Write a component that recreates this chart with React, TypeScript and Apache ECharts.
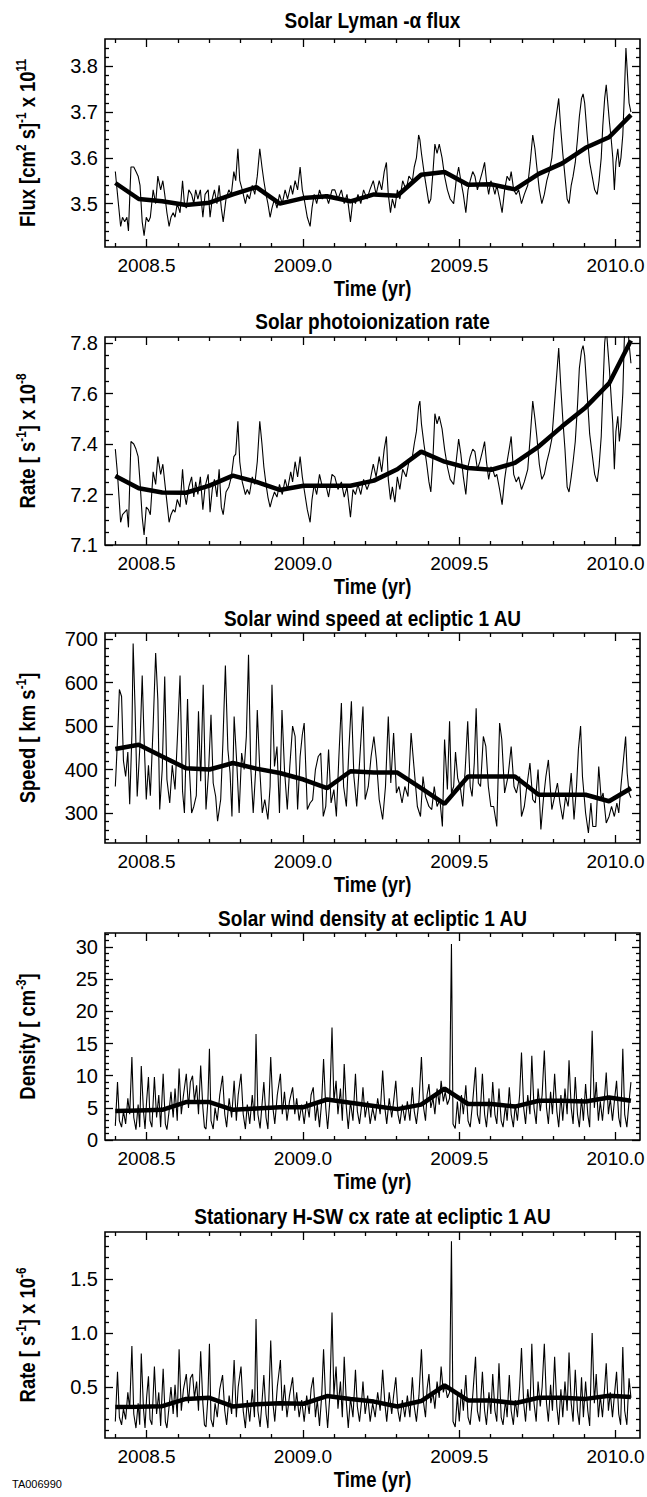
import React, { useEffect, useRef } from "react";
import * as echarts from "echarts";

// ---------------- DATA ----------------
const X_RANGE = [2008.367, 2010.078];
const X_TICKS = [2008.5, 2009.0, 2009.5, 2010.0];
const X_LABELS = ["2008.5", "2009.0", "2009.5", "2010.0"];
const X_MINOR = [2008.4, 2008.6, 2008.7, 2008.8, 2008.9, 2009.1, 2009.2, 2009.3, 2009.4, 2009.6, 2009.7, 2009.8, 2009.9];

const TITLES = [
  "Solar Lyman -\u03b1 flux",
  "Solar photoionization rate",
  "Solar wind speed at ecliptic 1 AU",
  "Solar wind density at ecliptic 1 AU",
  "Stationary H-SW cx rate at ecliptic 1 AU",
];
const Y_NAMES = [
  "{n|Flux [cm}{s|2}{n| s]}{s|-1}{n| x 10}{s|11}",
  "{n|Rate [ s}{s|-1}{n|] x 10}{s|-8}",
  "{n|Speed [ km s}{s|-1}{n|]}",
  "{n|Density [ cm}{s|-3}{n|]}",
  "{n|Rate [ s}{s|-1}{n|] x 10}{s|-6}",
];
const X_NAME = "Time (yr)";
const FIG_ID = "TA006990";

const Y1_RANGE = [3.405, 3.86];
const Y1_TICKS = [3.5, 3.6, 3.7, 3.8];
const Y1_LABELS = ["3.5", "3.6", "3.7", "3.8"];
const Y1_MINOR = [3.42, 3.44, 3.46, 3.48, 3.52, 3.54, 3.56, 3.58, 3.62, 3.64, 3.66, 3.68, 3.72, 3.74, 3.76, 3.78, 3.82, 3.84];

const Y2_RANGE = [7.0, 7.824];
const Y2_TICKS = [7.0, 7.2, 7.4, 7.6, 7.8];
const Y2_LABELS = ["7.1", "7.2", "7.4", "7.6", "7.8"];
const Y2_MINOR = [7.05, 7.1, 7.15, 7.25, 7.3, 7.35, 7.45, 7.5, 7.55, 7.65, 7.7, 7.75];

const Y3_RANGE = [231, 714];
const Y3_TICKS = [300, 400, 500, 600, 700];
const Y3_LABELS = ["300", "400", "500", "600", "700"];
const Y3_MINOR = [240, 260, 280, 320, 340, 360, 380, 420, 440, 460, 480, 520, 540, 560, 580, 620, 640, 660, 680];

const Y4_RANGE = [0, 32.2];
const Y4_TICKS = [0, 5, 10, 15, 20, 25, 30];
const Y4_LABELS = ["0", "5", "10", "15", "20", "25", "30"];
const Y4_MINOR = [1, 2, 3, 4, 6, 7, 8, 9, 11, 12, 13, 14, 16, 17, 18, 19, 21, 22, 23, 24, 26, 27, 28, 29, 31, 32];

const Y5_RANGE = [0.028, 1.935];
const Y5_TICKS = [0.5, 1.0, 1.5];
const Y5_LABELS = ["0.5", "1.0", "1.5"];
const Y5_MINOR = [0.1, 0.2, 0.3, 0.4, 0.6, 0.7, 0.8, 0.9, 1.1, 1.2, 1.3, 1.4, 1.6, 1.7, 1.8, 1.9];

// daily Lyman-alpha flux [t, 1e11 /cm2/s]
const LYA_DAILY = [
  [2008.400,3.57],[2008.407,3.52],[2008.417,3.45],[2008.423,3.47],[2008.430,3.46],[2008.437,3.47],[2008.442,3.44],[2008.450,3.58],[2008.459,3.58],[2008.466,3.57],
  [2008.473,3.56],[2008.479,3.54],[2008.486,3.46],[2008.492,3.43],[2008.499,3.47],[2008.506,3.46],[2008.512,3.47],[2008.521,3.53],[2008.529,3.50],[2008.536,3.56],
  [2008.545,3.53],[2008.552,3.55],[2008.558,3.52],[2008.565,3.48],[2008.572,3.45],[2008.578,3.47],[2008.585,3.48],[2008.591,3.47],[2008.598,3.50],[2008.607,3.48],
  [2008.615,3.55],[2008.621,3.50],[2008.627,3.49],[2008.635,3.53],[2008.644,3.52],[2008.651,3.50],[2008.657,3.53],[2008.664,3.51],[2008.672,3.53],[2008.680,3.47],
  [2008.687,3.52],[2008.697,3.53],[2008.703,3.47],[2008.710,3.51],[2008.717,3.53],[2008.725,3.50],[2008.732,3.54],[2008.739,3.49],[2008.745,3.46],[2008.754,3.51],
  [2008.763,3.53],[2008.771,3.52],[2008.779,3.57],[2008.785,3.55],[2008.792,3.62],[2008.798,3.55],[2008.806,3.53],[2008.816,3.50],[2008.822,3.52],[2008.829,3.51],
  [2008.838,3.54],[2008.846,3.52],[2008.854,3.56],[2008.862,3.62],[2008.869,3.58],[2008.875,3.55],[2008.882,3.52],[2008.888,3.50],[2008.895,3.47],[2008.901,3.49],
  [2008.909,3.51],[2008.917,3.49],[2008.925,3.52],[2008.934,3.50],[2008.943,3.53],[2008.951,3.51],[2008.961,3.54],[2008.967,3.52],[2008.975,3.55],[2008.983,3.53],
  [2008.991,3.58],[2008.998,3.53],[2009.004,3.51],[2009.014,3.47],[2009.023,3.45],[2009.029,3.49],[2009.036,3.52],[2009.044,3.50],[2009.053,3.53],[2009.062,3.51],
  [2009.073,3.52],[2009.082,3.50],[2009.093,3.53],[2009.102,3.53],[2009.112,3.51],[2009.123,3.53],[2009.132,3.50],[2009.141,3.52],[2009.152,3.46],[2009.160,3.51],
  [2009.168,3.50],[2009.176,3.52],[2009.185,3.50],[2009.194,3.53],[2009.205,3.51],[2009.214,3.53],[2009.225,3.55],[2009.234,3.52],[2009.244,3.55],[2009.252,3.53],
  [2009.260,3.57],[2009.267,3.59],[2009.273,3.52],[2009.280,3.48],[2009.286,3.51],[2009.294,3.49],[2009.302,3.53],[2009.310,3.51],[2009.319,3.55],[2009.330,3.53],
  [2009.339,3.56],[2009.350,3.55],[2009.356,3.58],[2009.363,3.60],[2009.370,3.65],[2009.374,3.64],[2009.379,3.61],[2009.387,3.57],[2009.396,3.53],[2009.403,3.50],
  [2009.409,3.51],[2009.416,3.57],[2009.422,3.63],[2009.429,3.61],[2009.436,3.63],[2009.445,3.60],[2009.453,3.56],[2009.462,3.53],[2009.471,3.51],[2009.482,3.50],
  [2009.490,3.55],[2009.498,3.58],[2009.505,3.55],[2009.513,3.52],[2009.521,3.48],[2009.528,3.53],[2009.535,3.55],[2009.543,3.57],[2009.550,3.56],[2009.558,3.53],
  [2009.566,3.55],[2009.574,3.57],[2009.581,3.59],[2009.587,3.55],[2009.594,3.52],[2009.601,3.55],[2009.607,3.54],[2009.614,3.52],[2009.620,3.54],[2009.629,3.51],
  [2009.637,3.48],[2009.645,3.53],[2009.653,3.56],[2009.661,3.55],[2009.666,3.57],[2009.674,3.53],[2009.682,3.52],[2009.690,3.53],[2009.699,3.50],[2009.708,3.52],
  [2009.719,3.54],[2009.727,3.59],[2009.735,3.65],[2009.742,3.62],[2009.748,3.58],[2009.756,3.53],[2009.764,3.50],[2009.772,3.52],[2009.780,3.55],[2009.788,3.57],
  [2009.796,3.60],[2009.804,3.66],[2009.812,3.70],[2009.818,3.73],[2009.825,3.66],[2009.831,3.61],[2009.838,3.56],[2009.845,3.51],[2009.851,3.50],[2009.858,3.54],
  [2009.864,3.56],[2009.871,3.59],[2009.878,3.64],[2009.884,3.69],[2009.891,3.73],[2009.896,3.74],[2009.901,3.72],[2009.909,3.65],[2009.917,3.59],[2009.925,3.56],
  [2009.933,3.53],[2009.941,3.52],[2009.947,3.55],[2009.954,3.60],[2009.959,3.67],[2009.965,3.73],[2009.970,3.76],[2009.975,3.72],[2009.980,3.68],[2009.986,3.64],
  [2009.991,3.60],[2009.996,3.53],[2010.001,3.59],[2010.007,3.62],[2010.012,3.58],[2010.017,3.60],[2010.023,3.65],[2010.028,3.74],[2010.033,3.84],[2010.038,3.78],
  [2010.043,3.72],[2010.049,3.70],
];

// daily photoionization rate [t, 1e-8 /s]
const PHOTO_DAILY = [
  [2008.400,7.38],[2008.407,7.28],[2008.417,7.09],[2008.423,7.12],[2008.430,7.13],[2008.437,7.14],[2008.442,7.07],[2008.450,7.41],[2008.459,7.40],[2008.466,7.38],
  [2008.473,7.35],[2008.479,7.25],[2008.486,7.11],[2008.492,7.04],[2008.499,7.15],[2008.506,7.14],[2008.512,7.12],[2008.521,7.29],[2008.529,7.24],[2008.536,7.35],
  [2008.545,7.28],[2008.552,7.32],[2008.558,7.25],[2008.565,7.17],[2008.572,7.09],[2008.578,7.12],[2008.585,7.14],[2008.591,7.13],[2008.598,7.18],[2008.607,7.15],
  [2008.615,7.30],[2008.621,7.20],[2008.627,7.16],[2008.635,7.23],[2008.644,7.27],[2008.651,7.19],[2008.657,7.25],[2008.664,7.20],[2008.672,7.27],[2008.680,7.14],
  [2008.687,7.23],[2008.697,7.28],[2008.703,7.13],[2008.710,7.22],[2008.717,7.26],[2008.725,7.19],[2008.732,7.30],[2008.739,7.15],[2008.745,7.12],[2008.754,7.21],
  [2008.763,7.23],[2008.771,7.27],[2008.779,7.35],[2008.785,7.36],[2008.792,7.49],[2008.798,7.33],[2008.806,7.25],[2008.816,7.20],[2008.822,7.22],[2008.829,7.20],
  [2008.838,7.27],[2008.846,7.24],[2008.854,7.33],[2008.862,7.49],[2008.869,7.40],[2008.875,7.31],[2008.882,7.24],[2008.888,7.19],[2008.895,7.15],[2008.901,7.18],
  [2008.909,7.21],[2008.917,7.19],[2008.925,7.24],[2008.934,7.20],[2008.943,7.26],[2008.951,7.22],[2008.961,7.29],[2008.967,7.25],[2008.975,7.33],[2008.983,7.27],
  [2008.991,7.35],[2008.998,7.27],[2009.004,7.22],[2009.014,7.14],[2009.023,7.09],[2009.029,7.18],[2009.036,7.24],[2009.044,7.20],[2009.053,7.28],[2009.062,7.23],
  [2009.073,7.24],[2009.082,7.19],[2009.093,7.28],[2009.102,7.27],[2009.112,7.22],[2009.123,7.25],[2009.132,7.19],[2009.141,7.23],[2009.152,7.11],[2009.160,7.22],
  [2009.168,7.20],[2009.176,7.24],[2009.185,7.20],[2009.194,7.26],[2009.205,7.22],[2009.214,7.25],[2009.225,7.32],[2009.234,7.27],[2009.244,7.35],[2009.252,7.29],
  [2009.260,7.38],[2009.267,7.43],[2009.273,7.26],[2009.280,7.18],[2009.286,7.23],[2009.294,7.17],[2009.302,7.27],[2009.310,7.22],[2009.319,7.30],[2009.330,7.27],
  [2009.339,7.33],[2009.350,7.35],[2009.356,7.40],[2009.363,7.45],[2009.370,7.55],[2009.374,7.57],[2009.379,7.48],[2009.387,7.40],[2009.396,7.32],[2009.403,7.25],
  [2009.409,7.21],[2009.416,7.35],[2009.422,7.52],[2009.429,7.48],[2009.436,7.51],[2009.445,7.46],[2009.453,7.38],[2009.462,7.31],[2009.471,7.26],[2009.482,7.24],
  [2009.490,7.33],[2009.498,7.42],[2009.505,7.36],[2009.513,7.27],[2009.521,7.20],[2009.528,7.31],[2009.535,7.35],[2009.543,7.38],[2009.550,7.37],[2009.558,7.30],
  [2009.566,7.33],[2009.574,7.37],[2009.581,7.41],[2009.587,7.33],[2009.594,7.26],[2009.601,7.31],[2009.607,7.30],[2009.614,7.27],[2009.620,7.28],[2009.629,7.22],
  [2009.637,7.16],[2009.645,7.26],[2009.653,7.33],[2009.661,7.39],[2009.666,7.43],[2009.674,7.28],[2009.682,7.25],[2009.690,7.27],[2009.699,7.22],[2009.708,7.25],
  [2009.719,7.30],[2009.727,7.43],[2009.735,7.57],[2009.742,7.50],[2009.748,7.43],[2009.756,7.32],[2009.764,7.26],[2009.772,7.28],[2009.780,7.33],[2009.788,7.37],
  [2009.796,7.42],[2009.804,7.55],[2009.812,7.68],[2009.818,7.78],[2009.825,7.62],[2009.831,7.50],[2009.838,7.38],[2009.845,7.23],[2009.851,7.21],[2009.858,7.27],
  [2009.864,7.33],[2009.871,7.41],[2009.878,7.55],[2009.884,7.70],[2009.891,7.77],[2009.896,7.79],[2009.901,7.75],[2009.909,7.60],[2009.917,7.44],[2009.925,7.36],
  [2009.933,7.28],[2009.941,7.25],[2009.947,7.31],[2009.954,7.43],[2009.959,7.60],[2009.965,7.80],[2009.970,7.86],[2009.975,7.78],[2009.980,7.70],[2009.986,7.58],
  [2009.991,7.48],[2009.996,7.30],[2010.001,7.45],[2010.007,7.51],[2010.012,7.41],[2010.017,7.47],[2010.023,7.60],[2010.028,7.82],[2010.033,7.95],[2010.038,7.88],
  [2010.043,7.80],[2010.049,7.72],
];

// daily solar wind speed [t, km/s]
const SPEED_DAILY = [
  [2008.400,361],[2008.407,469],[2008.413,584],[2008.420,568],[2008.426,420],[2008.433,384],[2008.440,440],[2008.446,320],[2008.453,480],[2008.457,690],
  [2008.463,545],[2008.470,338],[2008.479,460],[2008.486,616],[2008.492,470],[2008.499,331],[2008.506,410],[2008.512,340],[2008.521,500],[2008.529,668],
  [2008.536,560],[2008.542,308],[2008.550,400],[2008.558,614],[2008.565,377],[2008.574,323],[2008.582,410],[2008.591,354],[2008.599,480],[2008.607,616],
  [2008.615,350],[2008.621,300],[2008.631,562],[2008.637,400],[2008.644,300],[2008.651,315],[2008.659,340],[2008.666,534],[2008.673,373],[2008.681,595],
  [2008.690,308],[2008.698,392],[2008.706,526],[2008.713,369],[2008.721,338],[2008.727,281],[2008.737,331],[2008.744,461],[2008.752,639],[2008.760,446],
  [2008.767,392],[2008.773,292],[2008.780,522],[2008.789,407],[2008.796,300],[2008.804,438],[2008.812,400],[2008.819,476],[2008.826,664],[2008.833,407],
  [2008.841,300],[2008.849,400],[2008.854,537],[2008.862,400],[2008.870,300],[2008.878,331],[2008.888,285],[2008.895,361],[2008.901,595],[2008.909,407],
  [2008.917,453],[2008.925,300],[2008.933,537],[2008.941,400],[2008.950,308],[2008.958,407],[2008.967,500],[2008.975,476],[2008.983,308],[2008.991,430],
  [2008.998,480],[2009.004,507],[2009.014,308],[2009.023,323],[2009.031,330],[2009.040,400],[2009.049,430],[2009.057,438],[2009.065,292],[2009.073,315],
  [2009.082,446],[2009.090,323],[2009.099,354],[2009.107,292],[2009.115,430],[2009.123,553],[2009.130,361],[2009.139,315],[2009.147,446],[2009.155,557],
  [2009.163,384],[2009.172,315],[2009.181,415],[2009.192,545],[2009.199,331],[2009.209,361],[2009.218,430],[2009.227,476],[2009.235,422],[2009.244,331],
  [2009.255,285],[2009.264,361],[2009.273,522],[2009.281,369],[2009.290,484],[2009.299,346],[2009.307,361],[2009.317,323],[2009.326,361],[2009.336,338],
  [2009.346,484],[2009.355,407],[2009.366,315],[2009.376,292],[2009.384,384],[2009.392,338],[2009.403,315],[2009.412,308],[2009.420,361],[2009.429,315],
  [2009.438,331],[2009.446,269],[2009.453,469],[2009.462,354],[2009.469,511],[2009.475,346],[2009.482,361],[2009.488,440],[2009.495,380],[2009.503,361],
  [2009.511,315],[2009.519,400],[2009.527,511],[2009.535,361],[2009.541,338],[2009.548,415],[2009.554,541],[2009.561,369],[2009.568,361],[2009.577,476],
  [2009.585,453],[2009.593,361],[2009.601,315],[2009.610,315],[2009.620,269],[2009.629,507],[2009.636,469],[2009.645,346],[2009.656,384],[2009.666,453],
  [2009.675,361],[2009.683,346],[2009.693,384],[2009.699,292],[2009.708,315],[2009.716,361],[2009.726,415],[2009.735,331],[2009.743,323],[2009.752,400],
  [2009.761,262],[2009.769,331],[2009.777,384],[2009.785,422],[2009.796,308],[2009.805,338],[2009.814,369],[2009.822,323],[2009.831,285],[2009.840,338],
  [2009.848,315],[2009.858,392],[2009.867,285],[2009.875,361],[2009.881,446],[2009.888,500],[2009.894,384],[2009.904,300],[2009.913,254],[2009.921,323],
  [2009.927,269],[2009.937,269],[2009.946,407],[2009.954,331],[2009.960,346],[2009.970,277],[2009.979,292],[2009.987,315],[2009.996,292],[2010.004,323],
  [2010.010,300],[2010.017,361],[2010.025,422],[2010.032,476],[2010.037,392],[2010.043,346],[2010.049,335],
];

// daily solar wind density [t, /cm3]
const DENS_DAILY = [
  [2008.400,2.2],[2008.407,9.0],[2008.413,3.0],[2008.420,2.0],[2008.426,4.5],[2008.433,2.5],[2008.440,6.5],[2008.446,4.0],[2008.453,12.9],[2008.459,3.5],
  [2008.466,1.6],[2008.473,5.5],[2008.478,2.0],[2008.483,11.5],[2008.490,4.5],[2008.495,1.7],[2008.500,6.0],[2008.506,9.8],[2008.511,3.0],[2008.517,2.0],
  [2008.525,9.8],[2008.532,3.5],[2008.539,7.0],[2008.545,2.0],[2008.553,10.3],[2008.560,2.5],[2008.565,1.6],[2008.572,4.5],[2008.578,7.5],[2008.585,3.5],
  [2008.591,8.0],[2008.598,3.0],[2008.604,11.1],[2008.611,4.0],[2008.618,7.0],[2008.627,10.3],[2008.634,5.0],[2008.640,9.0],[2008.647,10.0],[2008.653,6.0],
  [2008.660,8.5],[2008.666,4.0],[2008.673,11.6],[2008.680,5.0],[2008.685,2.0],[2008.690,1.7],[2008.696,6.0],[2008.701,14.2],[2008.706,3.0],[2008.713,1.7],
  [2008.719,5.0],[2008.726,3.0],[2008.734,7.0],[2008.743,10.0],[2008.750,4.0],[2008.756,2.0],[2008.764,6.5],[2008.772,3.5],[2008.780,9.2],[2008.787,3.0],
  [2008.793,7.0],[2008.802,10.3],[2008.809,4.0],[2008.816,1.7],[2008.822,5.5],[2008.830,2.5],[2008.838,7.0],[2008.845,3.0],[2008.850,16.5],[2008.856,4.0],
  [2008.863,1.8],[2008.870,6.0],[2008.875,9.0],[2008.882,3.5],[2008.888,1.7],[2008.897,12.9],[2008.904,5.0],[2008.910,2.5],[2008.918,7.0],[2008.928,10.3],
  [2008.934,4.0],[2008.941,7.5],[2008.949,3.0],[2008.957,6.0],[2008.967,8.2],[2008.974,4.0],[2008.980,6.5],[2008.988,3.0],[2008.996,5.5],[2009.004,2.5],
  [2009.012,6.0],[2009.020,3.5],[2009.026,7.0],[2009.033,8.2],[2009.040,3.0],[2009.046,5.5],[2009.053,2.0],[2009.060,6.0],[2009.066,12.6],[2009.073,5.0],
  [2009.079,1.7],[2009.086,6.0],[2009.093,17.5],[2009.099,6.0],[2009.106,9.2],[2009.112,4.0],[2009.120,8.0],[2009.126,3.0],[2009.132,11.8],[2009.139,5.0],
  [2009.145,1.7],[2009.152,6.0],[2009.160,3.0],[2009.168,10.3],[2009.174,4.5],[2009.181,2.5],[2009.188,5.5],[2009.192,8.2],[2009.199,3.5],[2009.207,6.0],
  [2009.215,2.5],[2009.223,5.0],[2009.231,3.0],[2009.239,6.5],[2009.247,4.0],[2009.255,10.8],[2009.262,5.0],[2009.268,2.5],[2009.276,6.5],[2009.284,3.5],
  [2009.290,6.0],[2009.297,9.2],[2009.304,4.0],[2009.310,2.5],[2009.318,5.5],[2009.326,3.0],[2009.334,6.0],[2009.342,3.0],[2009.350,8.2],[2009.356,4.5],
  [2009.363,2.5],[2009.371,6.0],[2009.379,12.9],[2009.386,5.0],[2009.392,3.0],[2009.397,7.0],[2009.403,8.7],[2009.409,5.0],[2009.416,6.5],[2009.422,4.0],
  [2009.429,8.0],[2009.436,5.5],[2009.442,9.2],[2009.449,6.0],[2009.455,7.5],[2009.462,5.5],[2009.469,6.5],[2009.475,30.5],[2009.480,2.5],[2009.487,1.8],
  [2009.494,6.0],[2009.500,2.5],[2009.507,7.0],[2009.513,4.0],[2009.521,8.5],[2009.528,3.0],[2009.535,2.0],[2009.543,6.0],[2009.552,11.3],[2009.558,4.0],
  [2009.565,2.5],[2009.574,10.3],[2009.581,4.0],[2009.587,2.0],[2009.595,6.5],[2009.601,3.5],[2009.607,9.0],[2009.614,4.0],[2009.620,2.5],[2009.627,8.0],
  [2009.634,3.0],[2009.640,2.0],[2009.648,5.5],[2009.653,3.0],[2009.660,8.2],[2009.666,4.0],[2009.673,2.0],[2009.679,5.5],[2009.686,3.0],[2009.693,7.0],
  [2009.699,13.6],[2009.706,5.0],[2009.712,2.5],[2009.719,7.0],[2009.726,4.0],[2009.732,13.1],[2009.739,5.0],[2009.746,2.5],[2009.752,8.0],[2009.759,4.5],
  [2009.765,7.0],[2009.772,13.9],[2009.779,5.0],[2009.785,2.5],[2009.792,7.5],[2009.798,4.0],[2009.805,10.3],[2009.812,4.5],[2009.818,2.0],[2009.825,7.0],
  [2009.831,3.0],[2009.838,8.0],[2009.845,4.0],[2009.851,12.4],[2009.858,5.0],[2009.864,2.5],[2009.871,9.8],[2009.878,4.0],[2009.884,2.0],[2009.891,6.5],
  [2009.897,3.0],[2009.904,8.7],[2009.911,4.0],[2009.917,2.0],[2009.925,17.0],[2009.932,5.0],[2009.938,9.0],[2009.945,3.0],[2009.951,6.0],[2009.958,3.0],
  [2009.965,7.0],[2009.970,10.5],[2009.977,4.0],[2009.983,6.5],[2009.990,3.0],[2009.996,6.0],[2010.003,9.2],[2010.010,3.5],[2010.016,2.0],[2010.023,14.2],
  [2010.029,4.0],[2010.036,2.0],[2010.043,6.0],[2010.049,9.0],
];

// daily H-SW charge-exchange rate [t, 1e-6 /s]
const CX_DAILY = [
  [2008.400,0.18],[2008.407,0.64],[2008.413,0.22],[2008.420,0.15],[2008.426,0.30],[2008.433,0.20],[2008.440,0.45],[2008.446,0.30],[2008.453,0.88],[2008.459,0.25],
  [2008.466,0.12],[2008.473,0.35],[2008.478,0.15],[2008.483,0.81],[2008.490,0.30],[2008.495,0.12],[2008.500,0.40],[2008.506,0.60],[2008.511,0.20],[2008.517,0.15],
  [2008.525,0.69],[2008.532,0.25],[2008.539,0.45],[2008.545,0.14],[2008.553,0.67],[2008.560,0.18],[2008.565,0.12],[2008.572,0.32],[2008.578,0.50],[2008.585,0.25],
  [2008.591,0.52],[2008.598,0.22],[2008.604,0.85],[2008.611,0.28],[2008.618,0.48],[2008.627,0.62],[2008.634,0.35],[2008.640,0.58],[2008.647,0.62],[2008.653,0.40],
  [2008.660,0.55],[2008.666,0.28],[2008.673,0.83],[2008.680,0.35],[2008.685,0.15],[2008.690,0.13],[2008.696,0.40],[2008.701,0.90],[2008.706,0.20],[2008.713,0.13],
  [2008.719,0.35],[2008.726,0.22],[2008.734,0.48],[2008.743,0.61],[2008.750,0.28],[2008.756,0.15],[2008.764,0.42],[2008.772,0.25],[2008.780,0.75],[2008.787,0.22],
  [2008.793,0.50],[2008.802,0.69],[2008.809,0.28],[2008.816,0.12],[2008.822,0.38],[2008.830,0.18],[2008.838,0.48],[2008.845,0.22],[2008.850,1.13],[2008.856,0.28],
  [2008.863,0.13],[2008.870,0.40],[2008.875,0.61],[2008.882,0.25],[2008.888,0.12],[2008.897,0.93],[2008.904,0.35],[2008.910,0.18],[2008.918,0.50],[2008.928,0.75],
  [2008.934,0.28],[2008.941,0.52],[2008.949,0.22],[2008.957,0.42],[2008.967,0.59],[2008.974,0.28],[2008.980,0.45],[2008.988,0.22],[2008.996,0.38],[2009.004,0.18],
  [2009.012,0.42],[2009.020,0.25],[2009.026,0.48],[2009.033,0.59],[2009.040,0.22],[2009.046,0.38],[2009.053,0.14],[2009.060,0.42],[2009.066,0.85],[2009.073,0.35],
  [2009.079,0.12],[2009.086,0.42],[2009.093,1.19],[2009.099,0.42],[2009.106,0.69],[2009.112,0.30],[2009.120,0.55],[2009.126,0.22],[2009.132,0.78],[2009.139,0.35],
  [2009.145,0.12],[2009.152,0.40],[2009.160,0.22],[2009.168,0.66],[2009.174,0.32],[2009.181,0.18],[2009.188,0.38],[2009.192,0.55],[2009.199,0.25],[2009.207,0.42],
  [2009.215,0.18],[2009.223,0.35],[2009.231,0.22],[2009.239,0.45],[2009.247,0.28],[2009.255,0.66],[2009.262,0.35],[2009.268,0.18],[2009.276,0.45],[2009.284,0.25],
  [2009.290,0.42],[2009.297,0.59],[2009.304,0.28],[2009.310,0.18],[2009.318,0.38],[2009.326,0.22],[2009.334,0.42],[2009.342,0.22],[2009.350,0.59],[2009.356,0.32],
  [2009.363,0.18],[2009.371,0.42],[2009.379,0.85],[2009.386,0.35],[2009.392,0.22],[2009.397,0.48],[2009.403,0.62],[2009.409,0.35],[2009.416,0.45],[2009.422,0.30],
  [2009.429,0.55],[2009.436,0.40],[2009.442,0.69],[2009.449,0.45],[2009.455,0.52],[2009.462,0.40],[2009.469,0.45],[2009.475,1.85],[2009.480,0.18],[2009.487,0.13],
  [2009.494,0.42],[2009.500,0.18],[2009.507,0.48],[2009.513,0.28],[2009.521,0.61],[2009.528,0.22],[2009.535,0.15],[2009.543,0.42],[2009.552,0.78],[2009.558,0.28],
  [2009.565,0.18],[2009.574,0.64],[2009.581,0.28],[2009.587,0.15],[2009.595,0.45],[2009.601,0.25],[2009.607,0.62],[2009.614,0.28],[2009.620,0.18],[2009.627,0.72],
  [2009.634,0.22],[2009.640,0.15],[2009.648,0.38],[2009.653,0.22],[2009.660,0.61],[2009.666,0.28],[2009.673,0.15],[2009.679,0.38],[2009.686,0.22],[2009.693,0.50],
  [2009.699,0.86],[2009.706,0.35],[2009.712,0.18],[2009.719,0.48],[2009.726,0.28],[2009.732,0.90],[2009.739,0.35],[2009.746,0.18],[2009.752,0.55],[2009.759,0.32],
  [2009.765,0.50],[2009.772,0.90],[2009.779,0.35],[2009.785,0.18],[2009.792,0.52],[2009.798,0.28],[2009.805,0.78],[2009.812,0.32],[2009.818,0.15],[2009.825,0.48],
  [2009.831,0.22],[2009.838,0.55],[2009.845,0.28],[2009.851,0.82],[2009.858,0.35],[2009.864,0.18],[2009.871,0.66],[2009.878,0.28],[2009.884,0.15],[2009.891,0.59],
  [2009.897,0.22],[2009.904,0.55],[2009.911,0.28],[2009.917,0.14],[2009.925,1.00],[2009.932,0.35],[2009.938,0.62],[2009.945,0.22],[2009.951,0.42],[2009.958,0.22],
  [2009.965,0.50],[2009.970,0.72],[2009.977,0.28],[2009.983,0.45],[2009.990,0.22],[2009.996,0.42],[2010.003,0.64],[2010.010,0.25],[2010.016,0.15],[2010.023,0.87],
  [2010.029,0.28],[2010.036,0.15],[2010.043,0.58],[2010.049,0.40],
];

// Carrington-rotation averages
const ROT_T = [2008.400, 2008.475, 2008.550, 2008.626, 2008.701, 2008.776, 2008.851, 2008.926, 2009.002, 2009.077, 2009.152, 2009.227,
  2009.302, 2009.378, 2009.453, 2009.528, 2009.603, 2009.678, 2009.754, 2009.829, 2009.904, 2009.979, 2010.049];
const LYA_AVG = [3.545, 3.510, 3.505, 3.497, 3.502, 3.520, 3.536, 3.500, 3.512, 3.516, 3.505, 3.520, 3.517, 3.563, 3.569, 3.541, 3.542, 3.531, 3.565, 3.588, 3.622, 3.645, 3.694];
const PHOTO_AVG = [7.273, 7.225, 7.208, 7.207, 7.235, 7.275, 7.250, 7.218, 7.235, 7.235, 7.235, 7.255, 7.300, 7.370, 7.330, 7.305, 7.298, 7.325, 7.390, 7.470, 7.545, 7.640, 7.810];
const SPEED_AVG = [447, 457, 430, 403, 400, 415, 402, 392, 377, 357, 396, 393, 393, 357, 321, 384, 384, 384, 342, 342, 342, 327, 357];
const DENS_AVG = [4.5, 4.6, 4.7, 5.9, 5.9, 4.7, 4.9, 5.1, 5.1, 6.3, 5.8, 5.3, 4.8, 5.5, 8.0, 5.6, 5.6, 5.2, 6.1, 6.1, 6.0, 6.6, 6.1];
const CX_AVG = [0.314, 0.318, 0.323, 0.39, 0.40, 0.32, 0.34, 0.35, 0.345, 0.416, 0.39, 0.365, 0.32, 0.37, 0.515, 0.376, 0.376, 0.35, 0.40, 0.40, 0.39, 0.42, 0.407];

// ---------------- LAYOUT / STYLE ----------------
const FONT = "'Liberation Sans', Arial, Helvetica, sans-serif";
const INK = "#000";
const GRID_LEFT = 105;
const GRID_RIGHT = 7;
const NARROW = 0.84; // horizontal squeeze imitating the condensed face of the original
const LAYOUT = [
  { top: 39, height: 208, titleY: 20 },
  { top: 337, height: 208, titleY: 321 },
  { top: 633, height: 210, titleY: 618 },
  { top: 933, height: 207, titleY: 918 },
  { top: 1232, height: 206, titleY: 1216 },
];

const PANELS = [
  { daily: LYA_DAILY, avg: LYA_AVG, range: Y1_RANGE, ticks: Y1_TICKS, labels: Y1_LABELS, minor: Y1_MINOR },
  { daily: PHOTO_DAILY, avg: PHOTO_AVG, range: Y2_RANGE, ticks: Y2_TICKS, labels: Y2_LABELS, minor: Y2_MINOR },
  { daily: SPEED_DAILY, avg: SPEED_AVG, range: Y3_RANGE, ticks: Y3_TICKS, labels: Y3_LABELS, minor: Y3_MINOR },
  { daily: DENS_DAILY, avg: DENS_AVG, range: Y4_RANGE, ticks: Y4_TICKS, labels: Y4_LABELS, minor: Y4_MINOR },
  { daily: CX_DAILY, avg: CX_AVG, range: Y5_RANGE, ticks: Y5_TICKS, labels: Y5_LABELS, minor: Y5_MINOR },
];

function labelFor(ticks: number[], labels: string[]) {
  return (v: number) => {
    let best = 0;
    for (let i = 1; i < ticks.length; i++) if (Math.abs(ticks[i] - v) < Math.abs(ticks[best] - v)) best = i;
    return labels[best];
  };
}

function buildOption() {
  const tickLine = { color: INK, width: 1.3 };
  const grid: any[] = [];
  const xAxis: any[] = [];
  const yAxis: any[] = [];
  const series: any[] = [];
  const graphic: any[] = [];
  const plotCx = GRID_LEFT + (647 - GRID_LEFT - GRID_RIGHT) / 2;

  PANELS.forEach((P, g) => {
    const L = LAYOUT[g];
    grid.push({
      left: GRID_LEFT, right: GRID_RIGHT, top: L.top, height: L.height,
      show: true, borderColor: INK, borderWidth: 1.6, backgroundColor: "transparent",
      containLabel: false, outerBoundsMode: "none",
    });
    const xc = {
      type: "value", gridIndex: g, min: X_RANGE[0], max: X_RANGE[1], silent: true,
      axisLine: { show: false, onZero: false }, splitLine: { show: false },
    };
    xAxis.push({
      ...xc, position: "bottom",
      axisTick: { show: true, inside: true, length: 8, customValues: X_TICKS, lineStyle: tickLine },
      axisLabel: { show: true, customValues: X_TICKS, formatter: labelFor(X_TICKS, X_LABELS), color: INK, fontSize: 19, fontFamily: FONT, margin: 9 },
    });
    xAxis.push({ ...xc, position: "bottom", axisLabel: { show: false },
      axisTick: { show: true, inside: true, length: 4, customValues: X_MINOR, lineStyle: tickLine } });
    xAxis.push({ ...xc, position: "top", axisLabel: { show: false },
      axisTick: { show: true, inside: true, length: 8, customValues: X_TICKS, lineStyle: tickLine } });
    xAxis.push({ ...xc, position: "top", axisLabel: { show: false },
      axisTick: { show: true, inside: true, length: 4, customValues: X_MINOR, lineStyle: tickLine } });

    const yc = {
      type: "value", gridIndex: g, min: P.range[0], max: P.range[1], silent: true,
      axisLine: { show: false, onZero: false }, splitLine: { show: false },
    };
    yAxis.push({
      ...yc, position: "left",
      axisTick: { show: true, inside: true, length: 8, customValues: P.ticks, lineStyle: tickLine },
      axisLabel: { show: true, customValues: P.ticks, formatter: labelFor(P.ticks, P.labels), color: INK, fontSize: 20, fontFamily: FONT, margin: 7 },
    });
    yAxis.push({ ...yc, position: "left", axisLabel: { show: false },
      axisTick: { show: true, inside: true, length: 4, customValues: P.minor, lineStyle: tickLine } });
    yAxis.push({ ...yc, position: "right", axisLabel: { show: false },
      axisTick: { show: true, inside: true, length: 8, customValues: P.ticks, lineStyle: tickLine } });
    yAxis.push({ ...yc, position: "right", axisLabel: { show: false },
      axisTick: { show: true, inside: true, length: 4, customValues: P.minor, lineStyle: tickLine } });

    series.push({
      type: "line", xAxisIndex: g * 4, yAxisIndex: g * 4, data: P.daily, symbol: "none", showSymbol: false,
      lineStyle: { color: INK, width: 1.1 }, silent: true, clip: true, z: 2,
    });
    series.push({
      type: "line", xAxisIndex: g * 4, yAxisIndex: g * 4, data: ROT_T.map((t, i) => [t, P.avg[i]]), symbol: "none", showSymbol: false,
      lineStyle: { color: INK, width: 4.5 }, silent: true, clip: true, z: 3,
    });

    graphic.push({
      type: "text", x: plotCx, y: L.titleY, scaleX: 0.865, silent: true,
      style: { text: TITLES[g], fill: INK, fontSize: 22, fontWeight: "bold", fontFamily: FONT, align: "center", verticalAlign: "middle" },
    });
    graphic.push({
      type: "text", x: plotCx, y: L.top + L.height + 41, scaleX: NARROW, silent: true,
      style: { text: X_NAME, fill: INK, fontSize: 22, fontWeight: "bold", fontFamily: FONT, align: "center", verticalAlign: "middle" },
    });
    graphic.push({
      type: "text", x: 27, y: L.top + L.height / 2, rotation: Math.PI / 2, scaleX: NARROW, silent: true,
      style: {
        text: Y_NAMES[g], fill: INK, align: "center", verticalAlign: "middle",
        fontSize: 22, fontWeight: "bold", fontFamily: FONT,
        rich: {
          n: { fontSize: 22, fontWeight: "bold", fontFamily: FONT, fill: INK, lineHeight: 26 },
          s: { fontSize: 14, fontWeight: "bold", fontFamily: FONT, fill: INK, lineHeight: 14, verticalAlign: "top" },
        },
      },
    });
  });

  graphic.push({
    type: "text", x: 12, y: 1484, silent: true,
    style: { text: FIG_ID, fill: INK, fontSize: 11, fontFamily: FONT, align: "left", verticalAlign: "middle" },
  });

  return { animation: false, backgroundColor: "#fff", grid, xAxis, yAxis, series, graphic };
}

export default function App() {
  const ref = useRef<HTMLDivElement>(null);
  useEffect(() => {
    if (!ref.current) return;
    const chart = echarts.init(ref.current, null, { renderer: "svg" });
    chart.setOption(buildOption() as any);
    return () => chart.dispose();
  }, []);
  return <div ref={ref} style={{ position: "absolute", left: 0, top: 0, width: 647, height: 1497, background: "#fff" }} />;
}
